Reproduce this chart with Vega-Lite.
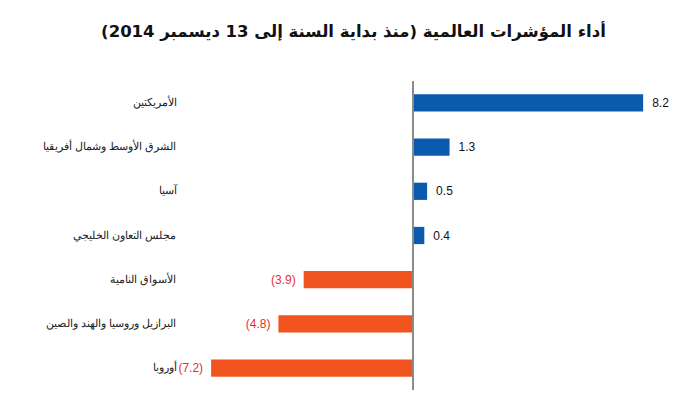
{
  "$schema": "https://vega.github.io/schema/vega-lite/v6.json",
  "width": 505,
  "height": 309,
  "autosize": "none",
  "padding": {"left": 185, "top": 81, "right": 10, "bottom": 3},
  "background": "white",
  "title": {
    "text": "أداء المؤشرات العالمية (منذ بداية السنة إلى 13 ديسمبر 2014)",
    "font": "DejaVu Sans",
    "fontSize": 16.5,
    "fontWeight": "bold",
    "color": "#111111",
    "anchor": "middle",
    "dx": -84,
    "offset": 40
  },
  "data": {
    "values": [
      {"region": "الأمريكتين", "value": 8.2, "label": "8.2"},
      {"region": "الشرق الأوسط وشمال أفريقيا", "value": 1.3, "label": "1.3"},
      {"region": "آسيا", "value": 0.5, "label": "0.5"},
      {"region": "مجلس التعاون الخليجي", "value": 0.4, "label": "0.4"},
      {"region": "الأسواق النامية", "value": -3.9, "label": "(3.9)"},
      {"region": "البرازيل وروسيا والهند والصين", "value": -4.8, "label": "(4.8)"},
      {"region": "أوروبا", "value": -7.2, "label": "(7.2)"}
    ]
  },
  "layer": [
    {
      "mark": {"type": "bar"},
      "encoding": {
        "y": {
          "field": "region",
          "type": "nominal",
          "sort": null,
          "scale": {"paddingInner": 0.61, "paddingOuter": 0.3},
          "axis": {
            "title": null,
            "domain": false,
            "ticks": false,
            "grid": false,
            "labelPadding": 9,
            "labelFontSize": 11,
            "labelColor": "#222222",
            "labelLimit": 300
          }
        },
        "x": {
          "field": "value",
          "type": "quantitative",
          "scale": {"domain": [-8.13, 9.87], "nice": false, "zero": false},
          "axis": null
        },
        "color": {
          "condition": {"test": "datum.value >= 0", "value": "#0A5BAE"},
          "value": "#F1541F"
        }
      }
    },
    {
      "mark": {"type": "rule", "color": "#8a8a8a", "strokeWidth": 1},
      "encoding": {"x": {"datum": 0, "type": "quantitative"}}
    },
    {
      "transform": [{"filter": "datum.value >= 0"}],
      "mark": {"type": "text", "align": "left", "dx": 9, "font": "Liberation Sans", "fontSize": 12, "color": "#111111"},
      "encoding": {
        "y": {"field": "region", "type": "nominal", "sort": null},
        "x": {"field": "value", "type": "quantitative"},
        "text": {"field": "label"}
      }
    },
    {
      "transform": [{"filter": "datum.value < 0"}],
      "mark": {"type": "text", "align": "right", "dx": -8, "font": "Liberation Sans", "fontSize": 12, "color": "#E2302C"},
      "encoding": {
        "y": {"field": "region", "type": "nominal", "sort": null},
        "x": {"field": "value", "type": "quantitative"},
        "text": {"field": "label"}
      }
    }
  ],
  "config": {"view": {"stroke": null}}
}
